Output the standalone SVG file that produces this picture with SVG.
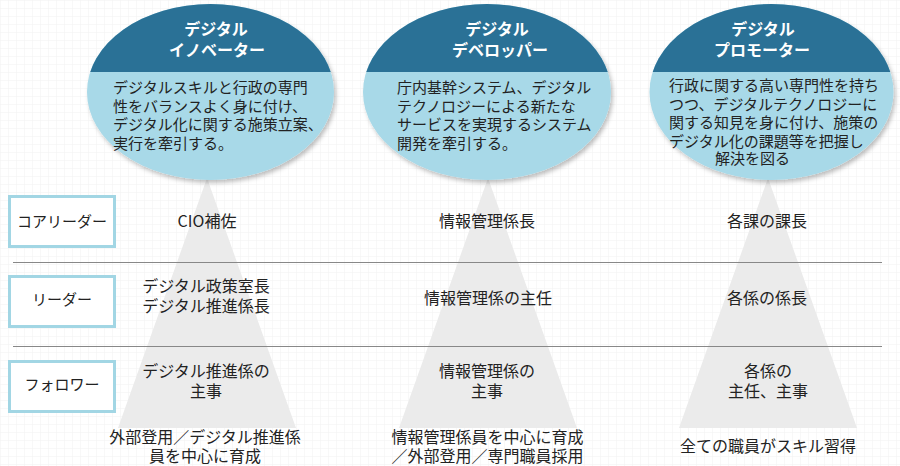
<svg xmlns="http://www.w3.org/2000/svg" width="900" height="466" viewBox="0 0 900 466">
<defs>
<pattern id="grid" width="8" height="8" patternUnits="userSpaceOnUse">
<path d="M8 0H0V8" fill="none" stroke="#f1f1f1" stroke-width="1"/>
</pattern>
<clipPath id="top1"><rect x="0" y="0" width="900" height="72"/></clipPath>
<filter id="sh" x="-10%" y="-10%" width="120%" height="125%">
<feDropShadow dx="2" dy="3" stdDeviation="2" flood-color="#000" flood-opacity="0.25"/>
</filter>
<style>
text{font-family:"Noto Sans CJK JP","Liberation Sans",sans-serif;fill:#222;dominant-baseline:central}
.t{font-size:16px;text-anchor:middle}
.h{font-size:16px;font-weight:bold;fill:#fff;text-anchor:middle}
.b{font-size:15px}
.lb{font-size:15px;text-anchor:middle}
.box{fill:#fff;stroke:#a2d6e4;stroke-width:3}
.light{fill:#a8d9e8}
.dark{fill:#2a7196}
.tri{fill:#ebebeb}
.rule{stroke:#888;stroke-width:1}
</style>
</defs>
<rect width="900" height="466" fill="#fff"/>
<rect width="900" height="466" fill="url(#grid)"/>

<g id="triangles">
<polygon class="tri" points="207,178 118,428 296,428"/>
<polygon class="tri" points="488,178 399,428 577,428"/>
<polygon class="tri" points="768,178 679,428 857,428"/>
</g>

<g id="rules">
<line class="rule" x1="13" y1="262.5" x2="882" y2="262.5"/>
<line class="rule" x1="13" y1="346.5" x2="882" y2="346.5"/>
</g>

<g id="innovator">
<ellipse class="light" cx="210.5" cy="92" rx="123.5" ry="88" filter="url(#sh)"/>
<ellipse class="dark" cx="210.5" cy="92" rx="123.5" ry="88" clip-path="url(#top1)"/>
<text class="h" y="28"><tspan x="216">デジタル</tspan><tspan x="217" dy="21">イノベーター</tspan></text>
<text class="b" y="86"><tspan x="113">デジタルスキルと行政の専門</tspan><tspan x="113" dy="18.5">性をバランスよく身に付け、</tspan><tspan x="113" dy="18.5">デジタル化に関する施策立案、</tspan><tspan x="113" dy="18.5">実行を牽引する。</tspan></text>
</g>

<g id="developer">
<ellipse class="light" cx="487" cy="92" rx="124" ry="88" filter="url(#sh)"/>
<ellipse class="dark" cx="487" cy="92" rx="124" ry="88" clip-path="url(#top1)"/>
<text class="h" y="28"><tspan x="497">デジタル</tspan><tspan x="500" dy="21">デベロッパー</tspan></text>
<text class="b" y="86"><tspan x="397">庁内基幹システム、デジタル</tspan><tspan x="397" dy="18.5">テクノロジーによる新たな</tspan><tspan x="397" dy="18.5">サービスを実現するシステム</tspan><tspan x="397" dy="18.5">開発を牽引する。</tspan></text>
</g>

<g id="promoter">
<ellipse class="light" cx="771.5" cy="92" rx="122" ry="88" filter="url(#sh)"/>
<ellipse class="dark" cx="771.5" cy="92" rx="122" ry="88" clip-path="url(#top1)"/>
<text class="h" y="28"><tspan x="763">デジタル</tspan><tspan x="762" dy="21">プロモーター</tspan></text>
<text class="b" y="84"><tspan x="669">行政に関する高い専門性を持ち</tspan><tspan x="669" dy="18.5">つつ、デジタルテクノロジーに</tspan><tspan x="669" dy="18.5">関する知見を身に付け、施策の</tspan><tspan x="669" dy="18.5">デジタル化の課題等を把握し</tspan><tspan x="715" dy="17.5">解決を図る</tspan></text>
</g>

<g id="label-core">
<rect class="box" x="9.5" y="196.5" width="105" height="50"/>
<text class="lb" x="62" y="220">コアリーダー</text>
</g>
<g id="label-leader">
<rect class="box" x="9.5" y="276.5" width="105" height="50"/>
<text class="lb" x="62" y="298">リーダー</text>
</g>
<g id="label-follower">
<rect class="box" x="9.5" y="361.5" width="105" height="50"/>
<text class="lb" x="62" y="383">フォロワー</text>
</g>

<g id="col1">
<text class="t" x="207" y="220">CIO補佐</text>
<text class="t" y="285"><tspan x="206">デジタル政策室長</tspan><tspan x="206" dy="20">デジタル推進係長</tspan></text>
<text class="t" y="370"><tspan x="206">デジタル推進係の</tspan><tspan x="206" dy="20">主事</tspan></text>
<text class="t" y="436"><tspan x="205">外部登用／デジタル推進係</tspan><tspan x="205" dy="19">員を中心に育成</tspan></text>
</g>

<g id="col2">
<text class="t" x="487" y="220">情報管理係長</text>
<text class="t" x="488" y="297">情報管理係の主任</text>
<text class="t" y="370"><tspan x="487">情報管理係の</tspan><tspan x="487" dy="20">主事</tspan></text>
<text class="t" y="436"><tspan x="487.5">情報管理係員を中心に育成</tspan><tspan x="487.5" dy="19">／外部登用／専門職員採用</tspan></text>
</g>

<g id="col3">
<text class="t" x="767" y="220">各課の課長</text>
<text class="t" x="767" y="297">各係の係長</text>
<text class="t" y="370"><tspan x="768">各係の</tspan><tspan x="768" dy="20">主任、主事</tspan></text>
<text class="t" x="768" y="445">全ての職員がスキル習得</text>
</g>
</svg>
